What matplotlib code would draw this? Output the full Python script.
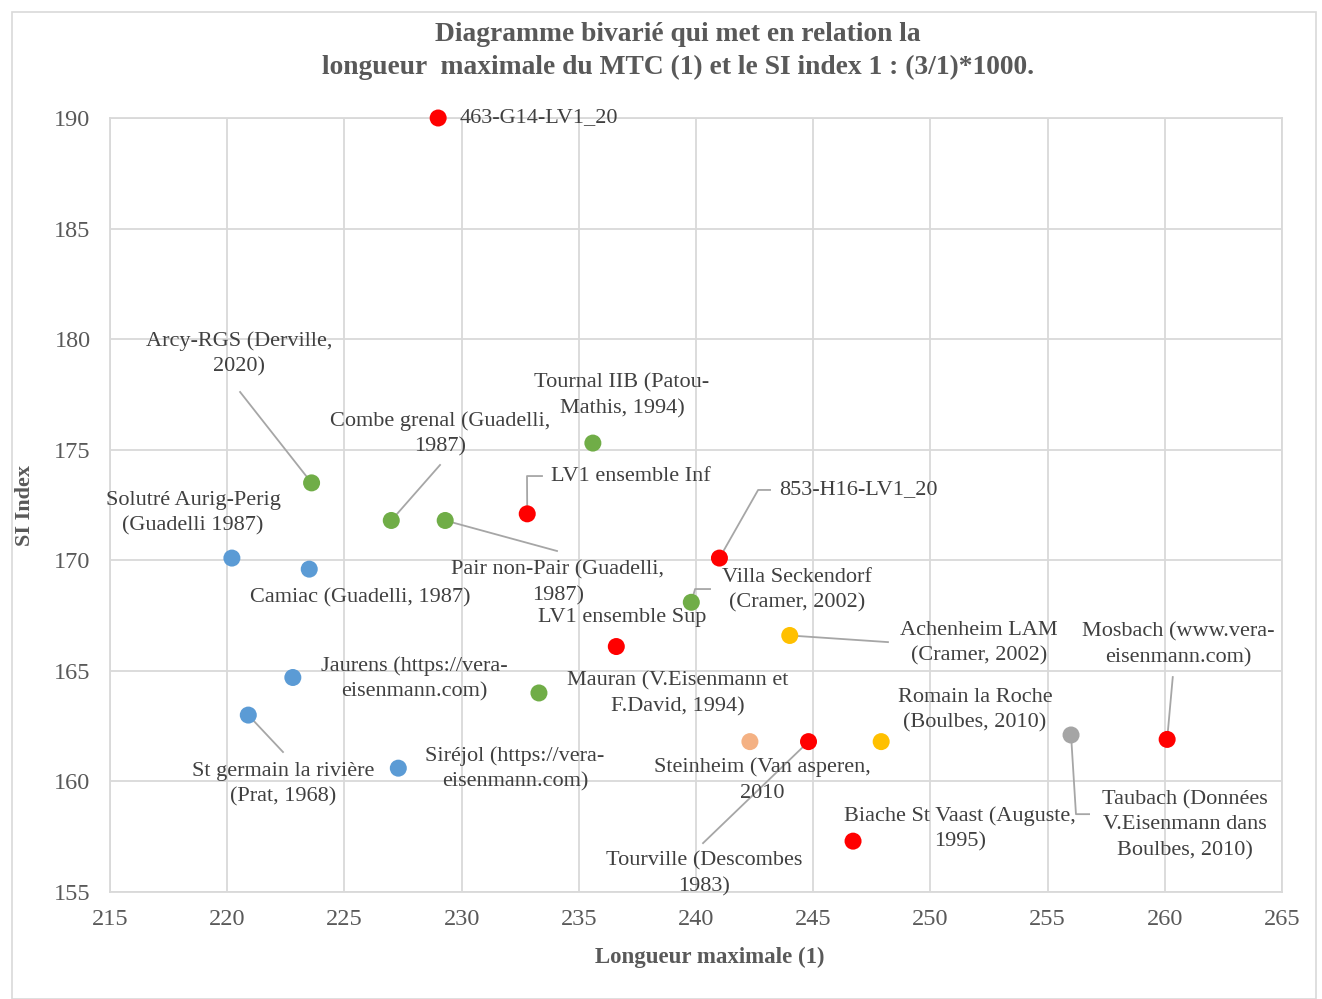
import matplotlib.pyplot as plt
from matplotlib.patches import Rectangle

plt.rcParams['font.family'] = ['Liberation Serif', 'DejaVu Serif']

# data
names = ["463-G14-LV1_20", "Arcy-RGS (Derville,\n2020)", "Combe grenal (Guadelli,\n1987)",
         "Pair non-Pair (Guadelli,\n1987)", "Tournal IIB (Patou-\nMathis, 1994)",
         "LV1 ensemble Inf", "853-H16-LV1_20", "Villa Seckendorf\n(Cramer, 2002)",
         "LV1 ensemble Sup", "Achenheim LAM\n(Cramer, 2002)",
         "Mauran (V.Eisenmann et\nF.David, 1994)", "Solutré Aurig-Perig\n(Guadelli 1987)",
         "Camiac (Guadelli, 1987)", "Jaurens (https://vera-\neisenmann.com)",
         "St germain la rivière\n(Prat, 1968)", "Siréjol (https://vera-\neisenmann.com)",
         "Steinheim (Van asperen,\n2010", "Tourville (Descombes\n1983)",
         "Romain la Roche\n(Boulbes, 2010)", "Biache St Vaast (Auguste,\n1995)",
         "Taubach (Données\nV.Eisenmann dans\nBoulbes, 2010)", "Mosbach (www.vera-\neisenmann.com)"]
longueur = [229.0, 223.6, 227.0, 229.3, 235.6, 232.8, 241.0, 239.8, 236.6, 244.0,
            233.3, 220.2, 223.5, 222.8, 220.9, 227.3, 242.3, 244.8, 247.9, 246.7,
            256.0, 260.1]
si_index = [190.0, 173.5, 171.8, 171.8, 175.3, 172.1, 170.1, 168.1, 166.1, 166.6,
            164.0, 170.1, 169.6, 164.7, 163.0, 160.6, 161.8, 161.8, 161.8, 157.3,
            162.1, 161.9]
groupe = ["LV1", "vert", "vert", "vert", "vert", "LV1", "LV1", "vert", "LV1", "jaune",
          "vert", "bleu", "bleu", "bleu", "bleu", "bleu", "saumon", "LV1", "jaune", "LV1",
          "gris", "LV1"]

couleurs = {"LV1": "#FF0000", "vert": "#70AD47", "bleu": "#5B9BD5",
            "jaune": "#FFC000", "saumon": "#F4B183", "gris": "#A5A5A5"}

# label layout: (x, y, ha) in data units, and leader line paths
pos_lab = [(229.9, 190.0, 'left'), (220.5, 179.33, 'center'), (229.1, 175.71, 'center'),
           (234.1, 168.97, 'center'), (236.84, 177.43, 'center'), (233.8, 173.81, 'left'),
           (243.55, 173.18, 'left'), (244.31, 168.66, 'center'), (236.84, 167.43, 'center'),
           (252.07, 166.26, 'center'), (239.23, 163.95, 'center'), (218.54, 172.14, 'center'),
           (225.67, 168.29, 'center'), (227.97, 164.63, 'center'), (222.38, 159.88, 'center'),
           (232.28, 160.56, 'center'), (242.82, 160.06, 'center'), (240.34, 155.81, 'center'),
           (251.9, 163.23, 'center'), (251.26, 157.85, 'center'), (260.86, 158.03, 'center'),
           (260.56, 166.17, 'center')]
leaders = {1: [(220.55, 177.61)], 2: [(229.08, 174.31)], 3: [(234.07, 170.42)],
           5: [(232.79, 173.81), (233.43, 173.81)],
           6: [(242.65, 173.18), (243.16, 173.18)],
           7: [(239.96, 168.70), (240.6, 168.70)],
           9: [(248.19, 166.30)], 14: [(222.38, 161.33)], 17: [(240.30, 157.21)],
           20: [(256.21, 158.52), (256.77, 158.52)], 21: [(260.34, 164.72)]}

fig = plt.figure(figsize=(13.22, 9.99), dpi=100)
fig.patches.append(Rectangle((12/1322, 0), 1304/1322, 1 - 12/999, transform=fig.transFigure,
                             fill=False, edgecolor='#D9D9D9', lw=1.2))
ax = fig.add_axes([110/1322, 1 - 892/999, 1172/1322, 774/999])

for i, pts in leaders.items():
    xs = [longueur[i]] + [p[0] for p in pts]
    ys = [si_index[i]] + [p[1] for p in pts]
    ax.plot(xs, ys, color='#A6A6A6', lw=1.3, zorder=2)

ax.scatter(longueur, si_index, c=[couleurs[g] for g in groupe], s=150, zorder=3,
           linewidths=0, clip_on=False)

for i, n in enumerate(names):
    lx, ly, ha = pos_lab[i]
    ax.text(lx, ly, n, ha=ha, va='center', multialignment='center', fontsize=16,
            color='#404040', linespacing=1.45, zorder=4)

ax.set_xlim(215, 265)
ax.set_ylim(155, 190)
ax.set_xticks(range(215, 266, 5))
ax.set_yticks(range(155, 191, 5))
ax.grid(True, color='#D9D9D9', lw=1.3)
ax.set_axisbelow(True)
for s in ax.spines.values():
    s.set_color('#D9D9D9')
    s.set_linewidth(1.3)
ax.tick_params(length=0, labelsize=17.5, labelcolor='#595959')
ax.tick_params(axis='x', pad=12)
ax.tick_params(axis='y', pad=14)

ax.set_xlabel('Longueur maximale (1)', fontsize=16.5, fontweight='bold', color='#595959')
ax.xaxis.set_label_coords((710 - 110) / 1172, -(947 - 892) / 774)
ax.set_ylabel('SI Index', fontsize=16, fontweight='bold', color='#595959')
ax.yaxis.set_label_coords(-(110 - 35) / 1172, 0.5)
fig.text(678/1322, 1 - 51/999, 'Diagramme bivarié qui met en relation la\n'
         'longueur  maximale du MTC (1) et le SI index 1 : (3/1)*1000.',
         ha='center', va='center', fontsize=19.8, fontweight='bold', color='#595959',
         linespacing=1.42)

fig.savefig('out.png', dpi=100)
